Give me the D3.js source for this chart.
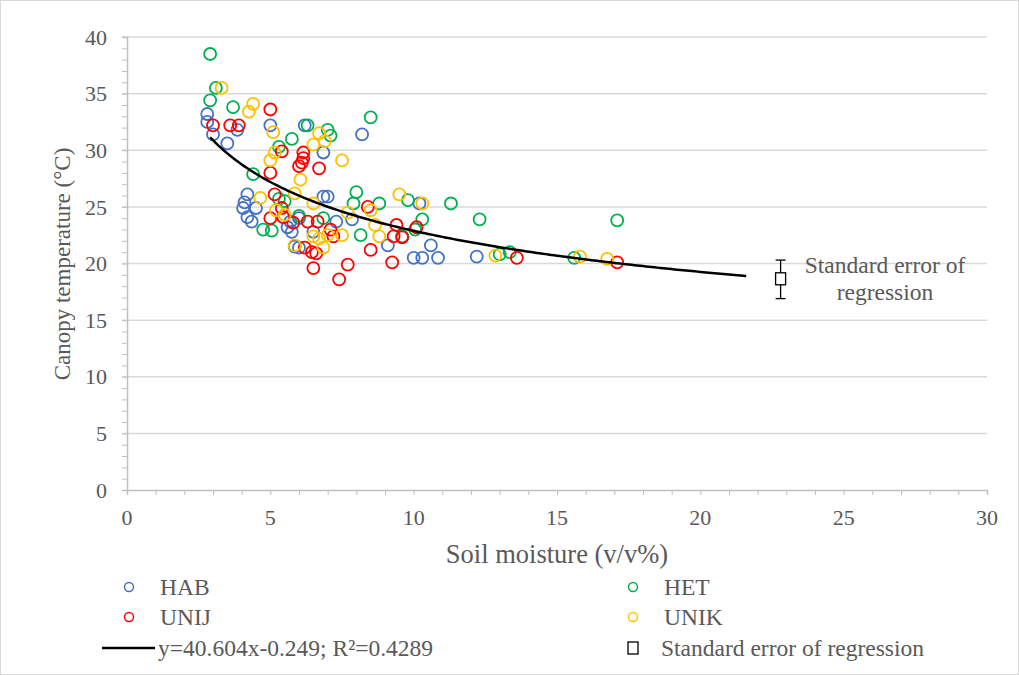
<!DOCTYPE html>
<html>
<head>
<meta charset="utf-8">
<script src="https://cdn.jsdelivr.net/npm/d3@7"></script>
<style>
  body { margin: 0; background: #fff; }
  text { font-family: "Liberation Serif", "Times New Roman", serif; fill: #595959; }
</style>
</head>
<body>
<div id="chart"></div>
<script>
// scatter data: [soil moisture, canopy temperature]
const habPoints = [
  [2.8, 33.2], [2.8, 32.5], [3.0, 31.4], [3.5, 30.6], [3.85, 31.8], [5.0, 32.2], [6.2, 32.2],
  [6.85, 29.8], [8.2, 31.4], [4.2, 26.1], [4.1, 25.4], [4.05, 24.9], [4.2, 24.1], [4.35, 23.7],
  [4.5, 24.9], [6.85, 25.9], [7.0, 25.9], [5.6, 23.2], [5.75, 22.8], [5.7, 23.7], [7.85, 23.9],
  [7.3, 23.7], [9.1, 21.6], [10.0, 20.5], [10.3, 20.5], [10.85, 20.5], [10.6, 21.6], [12.2, 20.6],
  [10.2, 25.3], [6.0, 21.4], [5.85, 21.5], [6.0, 24.0], [6.5, 22.8]
];
const hetPoints = [
  [2.9, 38.5], [3.1, 35.5], [2.9, 34.4], [3.7, 33.8], [4.4, 27.9], [6.3, 32.2], [5.75, 31.0],
  [5.3, 30.3], [7.0, 31.8], [7.1, 31.3], [8.5, 32.9], [8.0, 26.3], [7.9, 25.3], [8.8, 25.3],
  [9.8, 25.6], [10.3, 23.9], [11.3, 25.3], [12.3, 23.9], [17.1, 23.8], [15.6, 20.5], [13.0, 20.8],
  [13.35, 21.0], [10.05, 23.0], [8.15, 22.5], [5.5, 25.5], [5.3, 25.7], [4.75, 23.0], [5.05, 22.9],
  [6.0, 24.2], [6.85, 24.0], [9.6, 22.4]
];
const unijPoints = [
  [5.0, 33.6], [3.0, 32.2], [3.6, 32.2], [3.9, 32.2], [5.0, 28.0], [5.4, 29.9], [6.15, 29.8],
  [6.15, 29.3], [6.1, 28.9], [6.0, 28.6], [6.7, 28.4], [5.15, 26.1], [5.4, 24.9], [5.45, 24.1],
  [5.0, 24.0], [6.3, 23.7], [6.65, 23.7], [7.1, 23.0], [7.2, 22.4], [6.2, 21.4], [6.45, 21.0],
  [6.6, 20.9], [6.5, 19.6], [7.7, 19.9], [7.4, 18.6], [8.5, 21.2], [9.25, 20.1], [8.4, 25.0],
  [9.4, 23.4], [9.6, 22.3], [9.3, 22.4], [10.1, 23.2], [13.6, 20.5], [17.1, 20.1], [5.8, 23.6]
];
const unikPoints = [
  [3.3, 35.5], [4.4, 34.1], [4.25, 33.4], [5.1, 31.6], [5.15, 29.8], [5.0, 29.1], [6.7, 31.5],
  [6.9, 30.8], [6.5, 30.5], [7.5, 29.1], [6.05, 27.4], [5.85, 26.2], [4.65, 25.8], [6.5, 25.3],
  [7.7, 24.5], [8.5, 24.7], [8.65, 23.4], [9.5, 26.1], [10.3, 25.3], [8.8, 22.4], [5.5, 24.3],
  [7.5, 22.5], [6.5, 22.4], [6.7, 22.2], [7.0, 22.5], [6.85, 21.4], [5.85, 21.6], [12.85, 20.7],
  [15.8, 20.6], [16.75, 20.4], [5.2, 24.7]
];

const seriesNames = ['HAB', 'HET', 'UNIJ', 'UNIK'];
const seriesColors = ['#4472C4', '#00B050', '#FF0000', '#FFC000'];
const seriesData = [habPoints, hetPoints, unijPoints, unikPoints];

// power trendline y = a * x^b shown in the legend
const trendA = 40.604, trendB = -0.249;
const trendRange = [2.9, 21.6];

// standard error marker
const seX = 22.8, seY = 18.65, seLow = 16.9, seHigh = 20.3;

const xTicks = [0, 5, 10, 15, 20, 25, 30];
const yTicks = [0, 5, 10, 15, 20, 25, 30, 35, 40];

const W = 1019, H = 675;
const plot = { left: 127, right: 987, top: 37, bottom: 490 };

const svg = d3.select('#chart').append('svg')
  .attr('width', W).attr('height', H);

svg.append('rect').attr('x', 0.5).attr('y', 0.5).attr('width', W - 1).attr('height', H - 1)
  .attr('fill', '#fff').attr('stroke', '#d9d9d9');

const x = d3.scaleLinear().domain([0, 30]).range([plot.left, plot.right]);
const y = d3.scaleLinear().domain([0, 40]).range([plot.bottom, plot.top]);

// gridlines
svg.append('g').selectAll('line').data(yTicks.filter(d => d > 0)).join('line')
  .attr('x1', plot.left - 5).attr('x2', plot.right)
  .attr('y1', d => y(d)).attr('y2', d => y(d))
  .attr('stroke', '#d9d9d9').attr('stroke-width', 1.5);

// minor ticks
const yAxis = svg.append('g').attr('transform', `translate(${plot.left},0)`)
  .call(d3.axisLeft(y).tickValues(d3.range(0, 41, 1)).tickSize(5).tickFormat(''));
const xAxis = svg.append('g').attr('transform', `translate(0,${plot.bottom})`)
  .call(d3.axisBottom(x).tickValues(d3.range(0, 31, 1)).tickSize(5).tickFormat(''));
[yAxis, xAxis].forEach(g => {
  g.selectAll('path').attr('stroke', '#bfbfbf').attr('stroke-width', 1.5);
  g.selectAll('line').attr('stroke', '#bfbfbf');
});

// tick labels
svg.append('g').selectAll('text').data(yTicks).join('text')
  .attr('x', plot.left - 20).attr('y', d => y(d)).attr('dy', '0.35em')
  .attr('text-anchor', 'end').attr('font-size', 22).text(d => d);
svg.append('g').selectAll('text').data(xTicks).join('text')
  .attr('x', d => x(d)).attr('y', 525)
  .attr('text-anchor', 'middle').attr('font-size', 22).text(d => d);

// axis titles
svg.append('text').attr('transform', `translate(70,264) rotate(-90)`)
  .attr('text-anchor', 'middle').attr('font-size', 23).text('Canopy temperature (°C)');
svg.append('text').attr('x', 557).attr('y', 563)
  .attr('text-anchor', 'middle').attr('font-size', 26.5).text('Soil moisture (v/v%)');

// scatter
seriesData.forEach((pts, i) => {
  svg.append('g').selectAll('circle').data(pts).join('circle')
    .attr('cx', d => x(d[0])).attr('cy', d => y(d[1])).attr('r', 6)
    .attr('fill', 'none').attr('stroke', seriesColors[i]).attr('stroke-width', 1.8);
});

// trendline
const trendX = d3.range(trendRange[0], trendRange[1] + 0.001, 0.1);
const line = d3.line().x(d => x(d)).y(d => y(trendA * Math.pow(d, trendB)));
svg.append('path').datum(trendX).attr('d', line)
  .attr('fill', 'none').attr('stroke', '#000').attr('stroke-width', 2.5);

// standard error of regression marker
const se = svg.append('g');
se.append('line').attr('x1', x(seX)).attr('x2', x(seX)).attr('y1', y(seHigh)).attr('y2', y(seLow))
  .attr('stroke', '#000').attr('stroke-width', 1.3);
[seHigh, seLow].forEach(v => se.append('line')
  .attr('x1', x(seX) - 5).attr('x2', x(seX) + 5).attr('y1', y(v)).attr('y2', y(v))
  .attr('stroke', '#000').attr('stroke-width', 1.3));
se.append('rect').attr('x', x(seX) - 5).attr('y', y(seY) - 6).attr('width', 10).attr('height', 12)
  .attr('fill', '#fff').attr('stroke', '#000').attr('stroke-width', 1.3);
svg.append('text').attr('x', 885).attr('y', 273).attr('text-anchor', 'middle')
  .attr('font-size', 23.5).text('Standard error of');
svg.append('text').attr('x', 885).attr('y', 300).attr('text-anchor', 'middle')
  .attr('font-size', 23.5).text('regression');

// legend
const legendPos = [[129, 587], [633, 587], [129, 617], [633, 617]];
seriesNames.forEach((name, i) => {
  const [lx, ly] = legendPos[i];
  svg.append('circle').attr('cx', lx).attr('cy', ly).attr('r', 4.5)
    .attr('fill', 'none').attr('stroke', seriesColors[i]).attr('stroke-width', 1.5);
  svg.append('text').attr('x', lx + 31).attr('y', ly).attr('dy', '0.35em')
    .attr('font-size', 23.5).text(name);
});
svg.append('line').attr('x1', 102).attr('x2', 155).attr('y1', 648).attr('y2', 648)
  .attr('stroke', '#000').attr('stroke-width', 2.5);
svg.append('text').attr('x', 158).attr('y', 648).attr('dy', '0.35em')
  .attr('font-size', 23.5).text('y=40.604x-0.249; R²=0.4289');
svg.append('rect').attr('x', 628).attr('y', 642).attr('width', 10).attr('height', 12)
  .attr('fill', '#fff').attr('stroke', '#000').attr('stroke-width', 1.3);
svg.append('text').attr('x', 661).attr('y', 648).attr('dy', '0.35em')
  .attr('font-size', 23.5).text('Standard error of regression');
</script>
</body>
</html>
